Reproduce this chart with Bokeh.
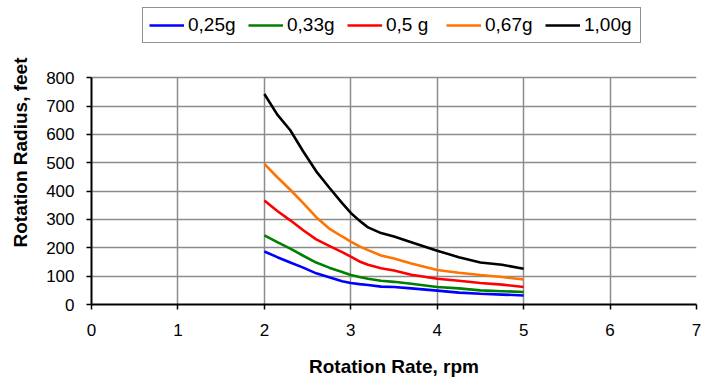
from bokeh.plotting import figure
from bokeh.models import Legend, LegendItem, FixedTicker
from bokeh.embed import file_html
from bokeh.resources import INLINE

# rotation rate (rpm)
rpm = [2.0, 2.15, 2.3, 2.45, 2.6, 2.75, 2.9, 3.0, 3.1, 3.2, 3.35, 3.5, 3.7, 4.0, 4.25, 4.5, 4.75, 5.0]

# rotation radius (feet) for each gravity level
r_025 = [187, 167, 148, 130, 110, 96, 82, 76, 72, 69, 63, 62, 57, 49, 42, 38, 35, 32]
r_033 = [244, 220, 197, 172, 148, 130, 115, 104, 97, 91, 84, 80, 73, 62, 57, 50, 47, 44]
r_050 = [367, 330, 297, 262, 230, 207, 185, 169, 152, 140, 128, 120, 105, 91, 84, 76, 70, 62]
r_067 = [496, 449, 405, 358, 308, 268, 240, 222, 205, 192, 173, 162, 145, 122, 112, 104, 97, 88]
r_100 = [743, 670, 615, 540, 470, 413, 358, 323, 296, 272, 252, 240, 220, 190, 167, 148, 140, 126]

series = [r_025, r_033, r_050, r_067, r_100]
labels = ["0,25g", "0,33g", "0,5 g", "0,67g", "1,00g"]
colors = ["#0000ff", "#008000", "#ff0000", "#ff7300", "#000000"]

x_ticks = [0, 1, 2, 3, 4, 5, 6, 7]
y_ticks = [0, 100, 200, 300, 400, 500, 600, 700, 800]
y_max = 800

FONT = "Liberation Sans"

# frame spans the whole upper area (legend lives inside it); data top 800 sits lower
FRAME_H = 304
PLOT_H = 226.7
y_top = y_max * FRAME_H / PLOT_H

p = figure(frame_width=605, frame_height=FRAME_H,
           x_range=(0, 7), y_range=(0, y_top),
           output_backend="svg", toolbar_location=None,
           min_border_left=91, min_border_right=12,
           min_border_top=0, min_border_bottom=0)

p.background_fill_color = "white"
p.border_fill_color = "white"
p.outline_line_color = None

renderers = []
for ys, c in zip(series, colors):
    r = p.line(rpm, ys, line_color=c, line_width=2.6)
    renderers.append(r)

for ax in (p.xaxis[0], p.yaxis[0]):
    ax.axis_line_color = "black"
    ax.axis_line_width = 2
    ax.major_tick_line_color = "black"
    ax.major_tick_line_width = 1.5
    ax.major_tick_out = 5
    ax.major_tick_in = 0
    ax.minor_tick_line_color = None
    ax.major_label_text_font = FONT
    ax.major_label_text_font_size = "17px"
    ax.major_label_text_color = "black"
    ax.axis_label_text_font = FONT
    ax.axis_label_text_font_size = "19px"
    ax.axis_label_text_font_style = "bold"
    ax.axis_label_text_color = "black"

p.xaxis.ticker = FixedTicker(ticks=x_ticks)
p.yaxis.ticker = FixedTicker(ticks=y_ticks)
p.yaxis.bounds = (0, y_max)
p.xaxis.axis_label = "Rotation Rate, rpm"
p.yaxis.axis_label = "Rotation Radius, feet"
p.xaxis.major_label_standoff = 14
p.yaxis.major_label_standoff = 12
p.xaxis.axis_label_standoff = 17
p.yaxis.axis_label_standoff = 12

p.xgrid.ticker = FixedTicker(ticks=x_ticks)
p.ygrid.ticker = FixedTicker(ticks=y_ticks)
p.xgrid[0].cross_bounds = (0, y_max)
for g in (p.xgrid[0], p.ygrid[0]):
    g.grid_line_color = "#8c8c8c"
    g.grid_line_width = 1.5

legend = Legend(
    items=[LegendItem(label=l, renderers=[r]) for l, r in zip(labels, renderers)],
    orientation="horizontal",
    location=(51, 261),
    margin=0,
    padding=6,
    spacing=10,
    glyph_width=35,
    glyph_height=20,
    label_standoff=4,
    label_width=50,
    label_text_font=FONT,
    label_text_font_size="19px",
    label_text_color="black",
    border_line_color="#222222",
    border_line_width=1.5,
    background_fill_color="white",
    background_fill_alpha=1.0,
)
p.add_layout(legend, "center")

open("out.html", "w").write(file_html(p, INLINE))
